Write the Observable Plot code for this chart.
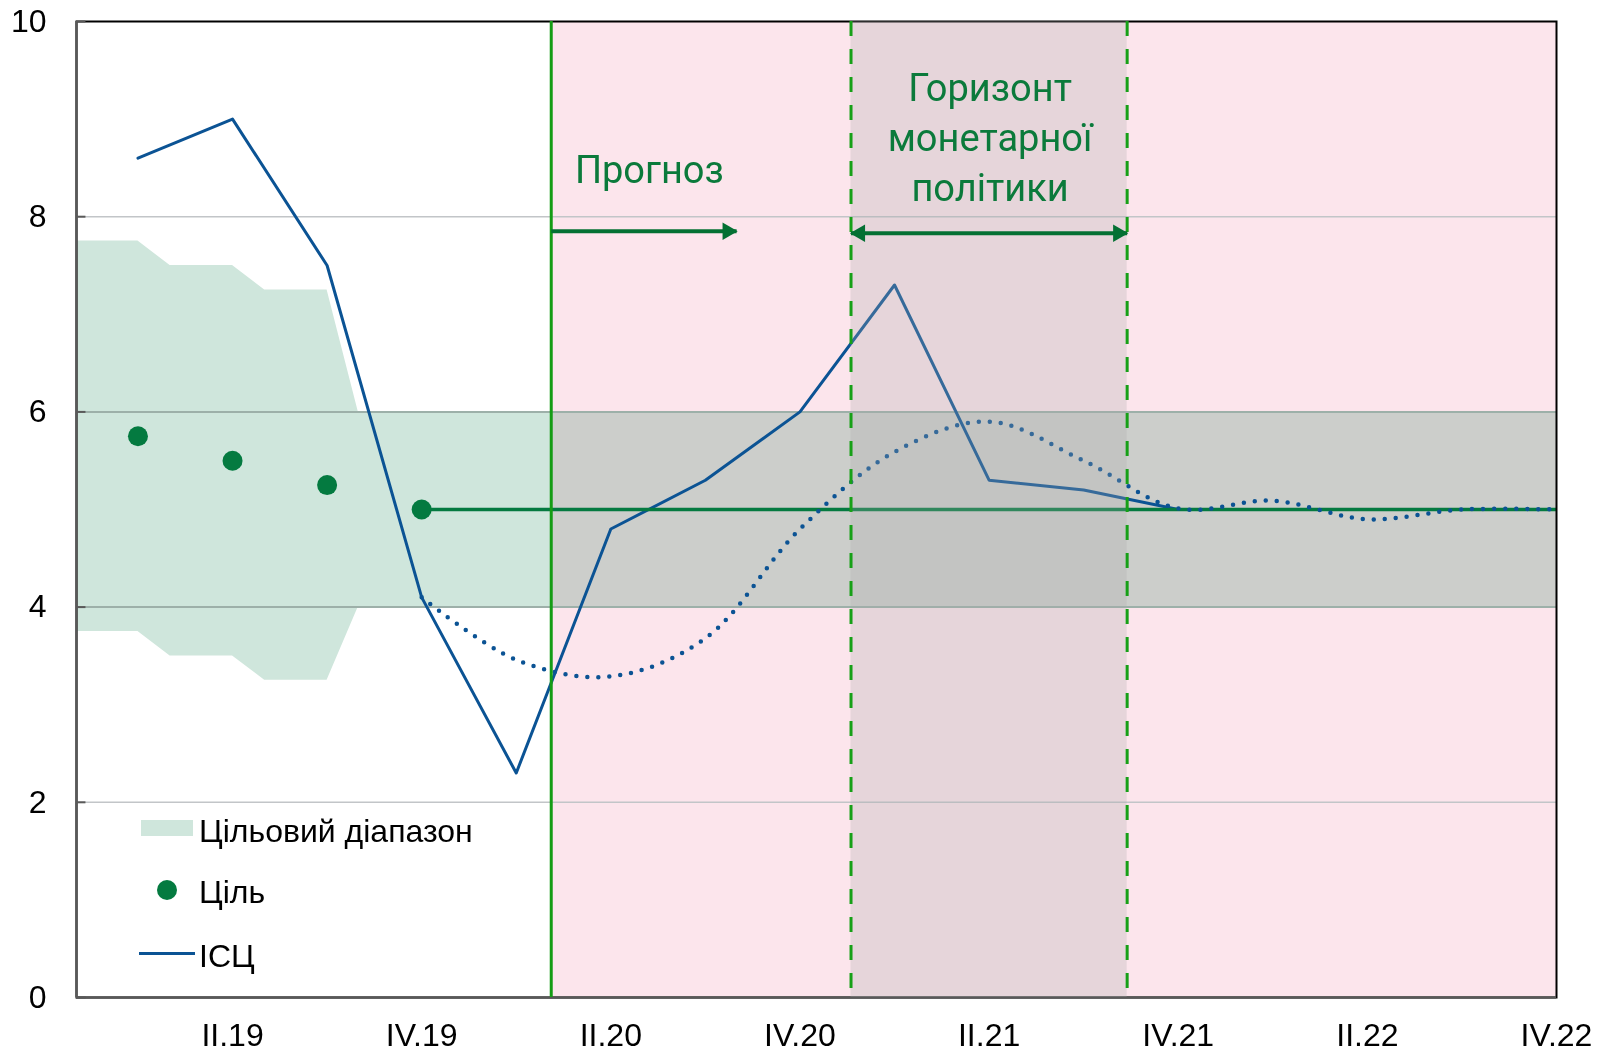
<!DOCTYPE html>
<html>
<head>
<meta charset="utf-8">
<script src="https://cdn.jsdelivr.net/npm/d3@7"></script>
<script src="https://cdn.jsdelivr.net/npm/@observablehq/plot@0.6"></script>
<style>
  html, body { margin: 0; padding: 0; background: #fff; }
  #wrap { position: relative; width: 1609px; height: 1052px; }
  .lg { position: absolute; font-family: "Liberation Sans", Arial, sans-serif; font-size: 32px; line-height: 32px; color: #000; white-space: nowrap; }
</style>
</head>
<body>
<div id="wrap"></div>
<script>
// ---- data ----
const quarters = ["I.19","II.19","III.19","IV.19","I.20","II.20","III.20","IV.20","I.21","II.21","III.21","IV.21","I.22","II.22","III.22","IV.22"];
const cpiActual = [8.6, 9.0, 7.5, 4.1, 2.3, 4.8, 5.3, 6.0, 7.3, 5.3, 5.2, 5.0];
const cpiAltStart = 3; // dotted series starts at IV.19
const cpiAlt = [4.1, 3.46, 3.29, 3.68, 4.8, 5.59, 5.9, 5.5, 5.01, 5.09, 4.9, 5.0, 5.0];
const targetPoints = [5.75, 5.5, 5.25, 5.0];
const targetLevel = 5.0;
const bandX = [-0.65, 0, 0.34, 1, 1.34, 2, 2.33, 15];
const bandLow = [3.75, 3.75, 3.5, 3.5, 3.25, 3.25, 4, 4];
const bandHigh = [7.75, 7.75, 7.5, 7.5, 7.25, 7.25, 6, 6];
const xDomain = [-0.65, 15];
const yTicks = [0, 2, 4, 6, 8, 10];
const xTickIdx = [1, 3, 5, 7, 9, 11, 13, 15];
const forecastStart = 4.37;
const horizon = [7.54, 10.46];
const forecastArrow = {x1: 4.37, x2: 6.33, y: 7.85};
const horizonArrow = {x1: 7.54, x2: 10.46, y: 7.83};
const labelForecast = {text: "Прогноз", x: 4.62, y: 8.35};
const labelHorizon = {text: "Горизонт\nмонетарної\nполітики", x: 9.01, y: 8.16};
const legendItems = ["Цільовий діапазон", "Ціль", "ІСЦ"];

// ---- derived tables ----
const band = bandX.map((x, i) => ({x, lo: bandLow[i], hi: bandHigh[i]}));
const actual = cpiActual.map((v, i) => ({x: i, y: v}));
const alt = cpiAlt.map((v, i) => ({x: i + cpiAltStart, y: v}));
const targets = targetPoints.map((v, i) => ({x: i, y: v}));

const darkGreen = "#047a40";
const blue = "#0b5394";
const annGreen = "#0b7a3b";

const chart = Plot.plot({
  width: 1609, height: 1052,
  marginLeft: 76, marginRight: 53, marginTop: 21, marginBottom: 55,
  x: {domain: xDomain},
  y: {domain: [0, 10]},
  style: {fontFamily: "'Liberation Sans', Arial, sans-serif", fontSize: "32px", color: "#000", background: "#fff"},
  marks: [
    // forecast (pink) area
    Plot.rect([{x1: forecastStart, x2: xDomain[1], y1: 0, y2: 10}], {x1: "x1", x2: "x2", y1: "y1", y2: "y2", fill: "#fce5ec"}),
    // target band
    Plot.areaY(band, {x: "x", y1: "lo", y2: "hi", fill: "#cfe6dc", mixBlendMode: "multiply"}),
    // gridlines
    Plot.ruleY([2, 8], {stroke: "#c2c5c8", strokeWidth: 1.5}),
    Plot.ruleY([4, 6], {stroke: "#9db0a9", strokeWidth: 2}),
    // CPI actual
    Plot.line(actual, {x: "x", y: "y", stroke: blue, strokeWidth: 3}),
    // target level line & points
    Plot.ruleY([targetLevel], {x1: cpiAltStart, x2: xDomain[1], stroke: darkGreen, strokeWidth: 3.5}),
    Plot.dot(targets, {x: "x", y: "y", r: 10, fill: darkGreen}),
    // CPI alternative (dotted, smoothed)
    Plot.line(alt, {x: "x", y: "y", curve: "catmull-rom", stroke: blue, strokeWidth: 4.5, strokeDasharray: "0 11", strokeLinecap: "round"}),
    // frame
    Plot.frame({stroke: "#000", strokeWidth: 2}),
    Plot.ruleX([xDomain[0]], {stroke: "#595959", strokeWidth: 2.5}),
    Plot.ruleY([0], {stroke: "#595959", strokeWidth: 2.5}),
    Plot.ruleY(yTicks, {x1: xDomain[0], x2: xDomain[0] + 0.1, stroke: "#595959", strokeWidth: 2}),
    // monetary policy horizon overlay
    Plot.rect([{x1: horizon[0], x2: horizon[1], y1: 0, y2: 10}], {x1: "x1", x2: "x2", y1: "y1", y2: "y2", fill: "#aaaaaa", fillOpacity: 0.27}),
    // vertical lines
    Plot.ruleX([forecastStart], {stroke: "#149c14", strokeWidth: 3}),
    Plot.ruleX(horizon, {stroke: "#17a017", strokeWidth: 3, strokeDasharray: "15 13"}),
    // arrows
    Plot.link([forecastArrow], {x1: "x1", x2: "x2", y1: "y", y2: "y", stroke: "#047033", strokeWidth: 4}),
    Plot.dot([forecastArrow], {x: "x2", y: "y", symbol: "triangle", r: 6.5, rotate: 90, dx: -9, fill: "#047033"}),
    Plot.link([horizonArrow], {x1: "x1", x2: "x2", y1: "y", y2: "y", stroke: "#047033", strokeWidth: 4}),
    Plot.dot([horizonArrow], {x: "x2", y: "y", symbol: "triangle", r: 6.5, rotate: 90, dx: -9, fill: "#047033"}),
    Plot.dot([horizonArrow], {x: "x1", y: "y", symbol: "triangle", r: 6.5, rotate: -90, dx: 9, fill: "#047033"}),
    // annotations
    Plot.text([labelForecast], {x: "x", y: "y", text: "text", textAnchor: "start", lineAnchor: "bottom", fill: annGreen, fontSize: 38, fontFamily: "Roboto, 'Open Sans', sans-serif"}),
    Plot.text([labelHorizon], {x: "x", y: "y", text: "text", textAnchor: "middle", lineAnchor: "bottom", lineHeight: 1.32, fill: annGreen, fontSize: 38, fontFamily: "Roboto, 'Open Sans', sans-serif"}),
    // axes
    Plot.axisY({ticks: yTicks, tickSize: 0, tickPadding: 30, fontSize: 32, label: null}),
    Plot.axisX({ticks: xTickIdx, tickFormat: i => quarters[i], tickSize: 0, tickPadding: 26, fontSize: 32, label: null})
  ]
});

const wrap = document.getElementById("wrap");
wrap.appendChild(chart);

// legend (inside plot area, lower left)
function add(html, style) {
  const d = document.createElement("div");
  d.className = "lg";
  Object.assign(d.style, style);
  d.innerHTML = html;
  wrap.appendChild(d);
}
add("", {left: "141px", top: "820px", width: "52px", height: "16px", background: "#cfe6dc"});
add(legendItems[0], {left: "199px", top: "815px"});
add("", {left: "157px", top: "880px", width: "20px", height: "20px", borderRadius: "50%", background: darkGreen});
add(legendItems[1], {left: "199px", top: "876px"});
add("", {left: "139px", top: "951.5px", width: "56px", height: "3px", background: blue});
add(legendItems[2], {left: "199px", top: "939.5px"});
</script>
</body>
</html>
